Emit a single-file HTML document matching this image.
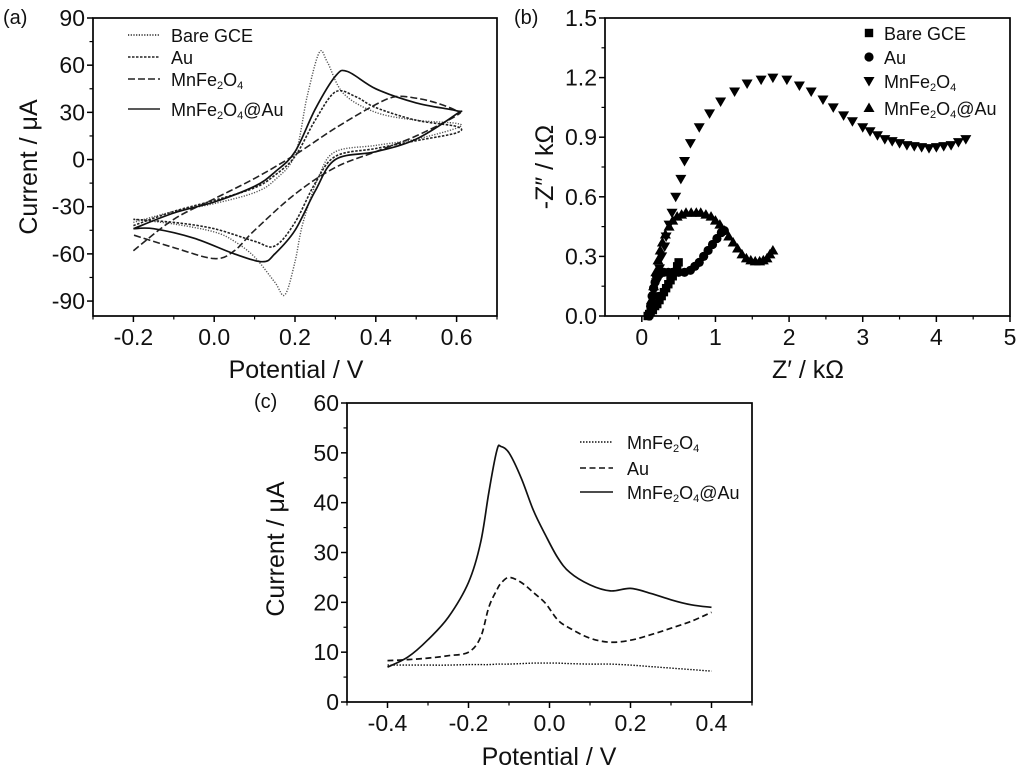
<!DOCTYPE html>
<html><head><meta charset="utf-8">
<style>
html,body{margin:0;padding:0;background:#fff;}
svg{display:block;font-family:"Liberation Sans",Arial,sans-serif;}
</style></head>
<body>
<svg id="fig" width="1024" height="775" viewBox="0 0 1024 775">
</svg>
<script>
// ===== Panel (a) CV data =====
const cvBareE = [-0.2,-0.1,0,0.1,0.15,0.2,0.23,0.26,0.28,0.32,0.4,0.5,0.6,0.6,0.5,0.4,0.3,0.26,0.22,0.2,0.175,0.15,0.1,0.05,0,-0.1,-0.2];
const cvBareI = [-40,-33,-28,-21,-13,3,40,68,62,42,30,25,23,20,13,9,5,-10,-40,-65,-86,-78,-62,-52,-46,-41,-38];
const cvAuE = [-0.2,-0.1,0,0.1,0.15,0.2,0.25,0.3,0.35,0.4,0.5,0.6,0.6,0.5,0.4,0.3,0.25,0.2,0.15,0.1,0,-0.1,-0.2];
const cvAuI = [-42,-33,-26,-18,-10,2,25,43,40,33,25,21,17,12,7,2,-15,-40,-55,-52,-44,-40,-38];
const cvMnE = [-0.2,-0.1,0,0.1,0.2,0.3,0.4,0.45,0.5,0.55,0.6,0.6,0.5,0.4,0.3,0.2,0.1,0.05,0,-0.1,-0.2];
const cvMnI = [-58,-38,-25,-12,3,20,35,40,39,36,31,28,15,5,-5,-22,-45,-58,-63,-56,-48];
const cvMnAuE = [-0.2,-0.1,0,0.1,0.15,0.2,0.25,0.3,0.33,0.4,0.5,0.6,0.6,0.5,0.4,0.3,0.25,0.2,0.15,0.12,0.05,-0.05,-0.15,-0.2];
const cvMnAuI = [-44,-34,-27,-17,-8,5,32,53,56,45,36,31,29,13,5,0,-20,-45,-60,-65,-60,-50,-44,-44];
const aXTicks = [-0.2,0.0,0.2,0.4,0.6];
const aXLabels = ["-0.2","0.0","0.2","0.4","0.6"];
const aYTicks = [-90,-60,-30,0,30,60,90];

// ===== Panel (b) EIS data =====
const eisMnX = [0.13,0.17,0.2,0.24,0.27,0.31,0.33,0.37,0.41,0.46,0.53,0.58,0.66,0.78,0.92,1.07,1.26,1.43,1.62,1.78,1.97,2.14,2.3,2.46,2.6,2.74,2.86,3.0,3.1,3.2,3.3,3.4,3.5,3.6,3.7,3.8,3.9,4.0,4.1,4.2,4.3,4.4];
const eisMnY = [0.03,0.1,0.17,0.24,0.3,0.35,0.4,0.46,0.52,0.6,0.69,0.78,0.87,0.95,1.02,1.08,1.13,1.17,1.19,1.2,1.19,1.16,1.13,1.09,1.05,1.01,0.98,0.95,0.93,0.91,0.89,0.88,0.87,0.86,0.855,0.85,0.845,0.85,0.855,0.86,0.875,0.89];
const eisMnAuX = [0.1,0.13,0.16,0.19,0.22,0.25,0.28,0.32,0.37,0.42,0.48,0.54,0.6,0.67,0.74,0.8,0.87,0.94,1.0,1.06,1.12,1.18,1.24,1.3,1.36,1.42,1.48,1.54,1.6,1.65,1.7,1.74,1.78];
const eisMnAuY = [0.02,0.08,0.15,0.22,0.28,0.33,0.37,0.41,0.45,0.48,0.5,0.51,0.52,0.52,0.52,0.52,0.51,0.5,0.48,0.46,0.43,0.4,0.37,0.34,0.31,0.29,0.28,0.275,0.275,0.28,0.29,0.31,0.33];
const eisAuX = [0.1,0.12,0.14,0.16,0.18,0.2,0.24,0.3,0.36,0.42,0.5,0.58,0.66,0.72,0.78,0.84,0.9,0.96,1.02,1.08,1.12];
const eisAuY = [0.0,0.05,0.1,0.14,0.17,0.2,0.21,0.22,0.22,0.22,0.22,0.22,0.23,0.25,0.27,0.3,0.33,0.36,0.39,0.42,0.43];
const eisBareX = [0.08,0.1,0.12,0.15,0.18,0.21,0.24,0.27,0.3,0.33,0.36,0.39,0.42,0.45,0.48,0.5];
const eisBareY = [0.0,0.01,0.02,0.03,0.05,0.06,0.08,0.1,0.12,0.14,0.16,0.18,0.2,0.22,0.25,0.27];
const bXTicks = [0,1,2,3,4,5];
const bYTicks = [0,0.3,0.6,0.9,1.2,1.5];
const bYLabels = ["0.0","0.3","0.6","0.9","1.2","1.5"];

// ===== Panel (c) DPV data =====
const dpvE = [-0.4,-0.35,-0.3,-0.25,-0.2,-0.17,-0.15,-0.13,-0.12,-0.1,-0.07,-0.04,-0.01,0.02,0.05,0.1,0.15,0.2,0.25,0.3,0.35,0.4];
const dpvMnI = [7.4,7.4,7.4,7.4,7.5,7.5,7.5,7.6,7.6,7.6,7.7,7.8,7.8,7.8,7.7,7.6,7.6,7.4,7.1,6.8,6.5,6.2];
const dpvAuI = [8.3,8.5,8.8,9.3,10,13,19,22.5,23.8,25,24,22,19.8,16.5,14.8,12.8,12,12.4,13.5,14.8,16.2,18];
const dpvMnAuI = [7,9,12.5,17,24,32,42,50.5,51.3,50,45,38.5,33.5,29,26,23.5,22.3,22.8,21.8,20.5,19.5,19];
const cXTicks = [-0.4,-0.2,0.0,0.2,0.4];
const cXLabels = ["-0.4","-0.2","0.0","0.2","0.4"];
const cYTicks = [0,10,20,30,40,50,60];

const NS = "http://www.w3.org/2000/svg";
const svg = document.getElementById('fig');
const TICK_FS = 23, TITLE_FS = 25, LEG_FS = 18, PANEL_FS = 20;
function mk(tag, attrs, parent){
  const e = document.createElementNS(NS, tag);
  for (const k in attrs) e.setAttribute(k, attrs[k]);
  (parent||svg).appendChild(e);
  return e;
}
function lin(d0,d1,r0,r1){ return v => r0 + (v-d0)/(d1-d0)*(r1-r0); }
function smoothPath(pts){
  let d = "M"+pts[0][0].toFixed(1)+","+pts[0][1].toFixed(1);
  for (let i=0;i<pts.length-1;i++){
    const p0=pts[i-1]||pts[i], p1=pts[i], p2=pts[i+1], p3=pts[i+2]||p2;
    const c1=[p1[0]+(p2[0]-p0[0])/6, p1[1]+(p2[1]-p0[1])/6];
    const c2=[p2[0]-(p3[0]-p1[0])/6, p2[1]-(p3[1]-p1[1])/6];
    d += " C"+c1[0].toFixed(1)+","+c1[1].toFixed(1)+" "+c2[0].toFixed(1)+","+c2[1].toFixed(1)+" "+p2[0].toFixed(1)+","+p2[1].toFixed(1);
  }
  return d;
}
function axes(g, box, sx, sy, xt, xl, yt, yl, xMinor, yMinor){
  const fr = mk('rect',{x:box.l,y:box.t,width:box.r-box.l,height:box.b-box.t,fill:'none',stroke:'#000','stroke-width':1.7},g);
  
  
  xt.forEach((v,i)=>{
    const x=sx(v);
    mk('line',{x1:x,y1:box.b,x2:x,y2:box.b+6,stroke:'#000','stroke-width':1.5},g);
    const t=mk('text',{x:x,y:box.b+29,'font-size':TICK_FS,'text-anchor':'middle',fill:'#111'},g);
    t.textContent=xl[i];
    
    
  });
  xMinor.forEach(v=>{const x=sx(v); mk('line',{x1:x,y1:box.b,x2:x,y2:box.b+3.5,stroke:'#000','stroke-width':1.2},g);});
  yt.forEach((v,i)=>{
    const y=sy(v);
    mk('line',{x1:box.l,y1:y,x2:box.l-6,y2:y,stroke:'#000','stroke-width':1.5},g);
    const t=mk('text',{x:box.l-8,y:y+8,'font-size':TICK_FS,'text-anchor':'end',fill:'#111'},g);
    t.textContent=yl[i];
    
    
  });
  yMinor.forEach(v=>{const y=sy(v); mk('line',{x1:box.l,y1:y,x2:box.l-3.5,y2:y,stroke:'#000','stroke-width':1.2},g);});
}
function legendText(g,x,y,parts){
  const t=mk('text',{x:x,y:y,'font-size':LEG_FS,fill:'#111'},g);
  parts.forEach(p=>{
    const ts=mk('tspan',p.sub?{'font-size':11,dy:3}:(p.up?{dy:-3}:{}),t);
    ts.textContent=p.s;
  });
  return t;
}
const MnFe = [{s:'MnFe'},{s:'2',sub:1},{s:'O',up:1},{s:'4',sub:1}];
const MnFeAu = [{s:'MnFe'},{s:'2',sub:1},{s:'O',up:1},{s:'4',sub:1},{s:'@Au',up:1}];

// ===== Panel A =====
const gA = mk('g',{});


const boxA={l:93,r:497,t:18,b:316};
const sxA=lin(-0.3,0.7,boxA.l,boxA.r), syA=lin(-99.5,90,boxA.b,boxA.t);
axes(gA,boxA,sxA,syA,aXTicks,aXLabels,aYTicks,aYTicks.map(String),[-0.3,-0.1,0.1,0.3,0.5,0.7],[-75,-45,-15,15,45,75]);
let t;
t=mk('text',{x:3,y:24,'font-size':PANEL_FS,fill:'#111'},gA); t.textContent='(a)';
 
t=mk('text',{x:296,y:378,'font-size':TITLE_FS,'text-anchor':'middle',fill:'#111'},gA); t.textContent='Potential / V';
 
t=mk('text',{x:0,y:0,'font-size':TITLE_FS,'text-anchor':'middle',fill:'#111',transform:'translate(37,167) rotate(-90)'},gA); t.textContent='Current / μA';
 
const aSeries=[
 {E:cvBareE,I:cvBareI,dash:'1.2 1.5',w:1.4,col:'#555',name:'cv-bare-gce'},
 {E:cvAuE,I:cvAuI,dash:'2.5 1.5',w:1.6,col:'#222',name:'cv-au'},
 {E:cvMnE,I:cvMnI,dash:'7 3',w:1.6,col:'#222',name:'cv-mnfe2o4'},
 {E:cvMnAuE,I:cvMnAuI,dash:'',w:1.7,col:'#111',name:'cv-mnfe2o4-au'}];
aSeries.forEach(s=>{
  const pts=s.E.map((e,i)=>[sxA(e),syA(s.I[i])]);
  const p=mk('path',{d:smoothPath(pts),fill:'none',stroke:s.col,'stroke-width':s.w,'stroke-dasharray':s.dash},gA);
  
  
});
const aLeg=[{y:36,dash:'1.2 1.5',txt:[{s:'Bare GCE'}]},{y:58,dash:'2.5 1.5',txt:[{s:'Au'}]},{y:80,dash:'7 3',txt:MnFe},{y:110,dash:'',txt:MnFeAu}];
aLeg.forEach(L=>{
  const g=mk('g',{},gA);
  
  
  mk('line',{x1:128,y1:L.y-1,x2:160,y2:L.y-1,stroke:'#222','stroke-width':1.6,'stroke-dasharray':L.dash},g);
  legendText(g,171,L.y+6,L.txt);
});

// ===== Panel B =====
const gB = mk('g',{});


const boxB={l:605,r:1010,t:18,b:316};
const sxB=lin(-0.5,5,boxB.l,boxB.r), syB=lin(0,1.5,boxB.b,boxB.t);
axes(gB,boxB,sxB,syB,bXTicks,bXTicks.map(String),bYTicks,bYLabels,[0.5,1.5,2.5,3.5,4.5],[0.15,0.45,0.75,1.05,1.35]);
t=mk('text',{x:514,y:24,'font-size':PANEL_FS,fill:'#111'},gB); t.textContent='(b)';
 
t=mk('text',{x:808,y:378,'font-size':TITLE_FS,'text-anchor':'middle',fill:'#111'},gB); t.textContent='Z′ / kΩ';
 
t=mk('text',{x:0,y:0,'font-size':TITLE_FS,'text-anchor':'middle',fill:'#111',transform:'translate(553,167) rotate(-90)'},gB); t.textContent='-Z″ / kΩ';
 
function marker(g,type,x,y){
  const r=5.5;
  if(type==='sq') return mk('rect',{x:x-4.2,y:y-4.2,width:8.4,height:8.4,fill:'#000'},g);
  if(type==='ci') return mk('circle',{cx:x,cy:y,r:4.6,fill:'#000'},g);
  if(type==='dn') return mk('path',{d:`M${x-r},${y-4} L${x+r},${y-4} L${x},${y+5.5} Z`,fill:'#000'},g);
  return mk('path',{d:`M${x-r},${y+4} L${x+r},${y+4} L${x},${y-5.5} Z`,fill:'#000'},g);
}
const bSeries=[
 {X:eisBareX,Y:eisBareY,m:'sq',name:'eis-bare-gce'},
 {X:eisAuX,Y:eisAuY,m:'ci',name:'eis-au'},
 {X:eisMnX,Y:eisMnY,m:'dn',name:'eis-mnfe2o4'},
 {X:eisMnAuX,Y:eisMnAuY,m:'up',name:'eis-mnfe2o4-au'}];
bSeries.forEach(s=>{
  const g=mk('g',{},gB);
  
  
  s.X.forEach((x,i)=>{
    const m=marker(g,s.m,sxB(x),syB(s.Y[i]));
    
    
  });
});
const bLeg=[{y:33,m:'sq',txt:[{s:'Bare GCE'}]},{y:57,m:'ci',txt:[{s:'Au'}]},{y:81,m:'dn',txt:MnFe},{y:108,m:'up',txt:MnFeAu}];
bLeg.forEach(L=>{
  const g=mk('g',{},gB);
  
  
  marker(g,L.m,869,L.y);
  legendText(g,884,L.y+7,L.txt);
});

// ===== Panel C =====
const gC = mk('g',{});


const boxC={l:347,r:752,t:403,b:702};
const sxC=lin(-0.5,0.5,boxC.l,boxC.r), syC=lin(0,60,boxC.b,boxC.t);
axes(gC,boxC,sxC,syC,cXTicks,cXLabels,cYTicks,cYTicks.map(String),[-0.5,-0.3,-0.1,0.1,0.3,0.5],[5,15,25,35,45,55]);
t=mk('text',{x:254,y:408,'font-size':PANEL_FS,fill:'#111'},gC); t.textContent='(c)';
 
t=mk('text',{x:549,y:765,'font-size':TITLE_FS,'text-anchor':'middle',fill:'#111'},gC); t.textContent='Potential / V';
 
t=mk('text',{x:0,y:0,'font-size':TITLE_FS,'text-anchor':'middle',fill:'#111',transform:'translate(284,549) rotate(-90)'},gC); t.textContent='Current / μA';
 
const cSeries=[
 {I:dpvMnI,dash:'1.5 1.5',w:1.4,name:'dpv-mnfe2o4'},
 {I:dpvAuI,dash:'6 3.5',w:1.7,name:'dpv-au'},
 {I:dpvMnAuI,dash:'',w:1.7,name:'dpv-mnfe2o4-au'}];
cSeries.forEach(s=>{
  const pts=dpvE.map((e,i)=>[sxC(e),syC(s.I[i])]);
  const p=mk('path',{d:smoothPath(pts),fill:'none',stroke:'#111','stroke-width':s.w,'stroke-dasharray':s.dash},gC);
  
  
});
const cLeg=[{y:442,dash:'1.5 1.5',txt:MnFe},{y:468,dash:'6 3.5',txt:[{s:'Au'}]},{y:492,dash:'',txt:MnFeAu}];
cLeg.forEach(L=>{
  const g=mk('g',{},gC);
  
  
  mk('line',{x1:580,y1:L.y,x2:613,y2:L.y,stroke:'#111','stroke-width':1.6,'stroke-dasharray':L.dash},g);
  legendText(g,627,L.y+7,L.txt);
});
</script>
</body></html>
